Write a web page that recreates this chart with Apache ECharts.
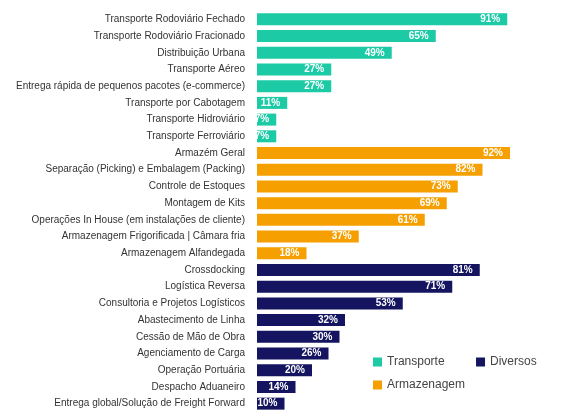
<!DOCTYPE html>
<html>
<head>
<meta charset="utf-8">
<script src="https://cdn.jsdelivr.net/npm/echarts@6/dist/echarts.min.js"></script>
<style>html,body{margin:0;padding:0;background:#fff}#chart{width:564px;height:413px}</style>
</head>
<body>
<div id="chart"></div>
<script>
const transporteCats = ['Transporte Rodoviário Fechado', 'Transporte Rodoviário Fracionado', 'Distribuição Urbana', 'Transporte Aéreo',
    'Entrega rápida de pequenos pacotes (e-commerce)', 'Transporte por Cabotagem', 'Transporte Hidroviário', 'Transporte Ferroviário']
const transporteVals = [91, 65, 49, 27, 27, 11, 7, 7]
const armazenagemCats = ['Armazém Geral', 'Separação (Picking) e Embalagem (Packing)', 'Controle de Estoques', 'Montagem de Kits',
    'Operações In House (em instalações de cliente)', 'Armazenagem Frigorificada | Câmara fria', 'Armazenagem Alfandegada']
const armazenagemVals = [92, 82, 73, 69, 61, 37, 18]
const diversosCats = ['Crossdocking', 'Logística Reversa', 'Consultoria e Projetos Logísticos', 'Abastecimento de Linha',
    'Cessão de Mão de Obra', 'Agenciamento de Carga', 'Operação Portuária', 'Despacho Aduaneiro', 'Entrega global/Solução de Freight Forward']
const diversosVals = [81, 71, 53, 32, 30, 26, 20, 14, 10]

const categories = transporteCats.concat(armazenagemCats, diversosCats)

function fill(cats, vals) {
    return categories.map(c => {
        let i = cats.indexOf(c)
        return i >= 0 ? vals[i] : null
    })
}

function makeSeries(name, color, cats, vals) {
    return {
        name: name, type: 'bar', stack: 'all', barWidth: 12,
        itemStyle: {color: color},
        label: {show: true, position: 'insideRight', color: '#fff', fontWeight: 'bold', fontSize: 10,
            fontFamily: 'Liberation Sans', formatter: p => p.value + '%', offset: [-2, 0]},
        data: fill(cats, vals)
    }
}

let myChart = echarts.init(document.getElementById('chart'))
myChart.setOption({
    animation: false,
    grid: {left: 257, right: 32, top: 11, bottom: 1},
    xAxis: {type: 'value', min: 0, max: 100, show: false},
    yAxis: {
        type: 'category', inverse: true, data: categories,
        axisLine: {show: false}, axisTick: {show: false},
        axisLabel: {color: '#333', fontSize: 10, fontFamily: 'Liberation Sans', margin: 12}
    },
    legend: {
        orient: 'vertical', left: 368, top: 351, itemWidth: 9, itemHeight: 9, itemGap: 11,
        icon: 'rect', textStyle: {color: '#444', fontSize: 12, fontFamily: 'Liberation Sans'},
        data: ['Transporte', 'Armazenagem', 'Diversos']
    },
    series: [
        makeSeries('Transporte', '#1ccaa6', transporteCats, transporteVals),
        makeSeries('Armazenagem', '#f5a000', armazenagemCats, armazenagemVals),
        makeSeries('Diversos', '#141460', diversosCats, diversosVals)
    ]
})
</script>
</body>
</html>
